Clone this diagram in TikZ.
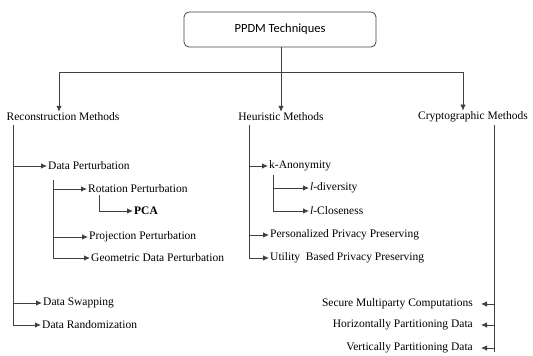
\documentclass[tikz,border=0pt]{standalone}
\usepackage{fontspec}
\setmainfont{Liberation Serif}
\newfontfamily\boxfont{Carlito}
\usetikzlibrary{arrows.meta}
\begin{document}
\begin{tikzpicture}[x=1pt,y=-1pt,
  line/.style={draw=black!75, line width=0.8pt},
  arr/.style={line, -{Latex[length=6pt,width=5.5pt]}},
  lbl/.style={font=\fontsize{11.5}{13}\selectfont, inner sep=1pt},
  lw/.style={lbl, anchor=west},
  le/.style={lbl, anchor=east},
  topbox/.style={draw=black!75, line width=0.8pt, rounded corners=5pt, minimum width=192pt, minimum height=35pt, font=\boxfont\fontsize{12.5}{14}\selectfont}]
\useasboundingbox (0,0) rectangle (533,356);
% top
\node[topbox] (top) at (280,29.5) {PPDM Techniques};
\node[lbl] (rm) at (63,117) {Reconstruction Methods};
\node[lbl] (hm) at (281,117) {Heuristic Methods};
\node[lbl] (cm) at (473,117) {Cryptographic Methods};
\coordinate (hj) at (281,72);
\coordinate (lj) at (59,72);
\coordinate (rj) at (463,72);
\draw[line] (top.south -| hj) -- (hj);
\draw[line] (lj) -- (rj);
\draw[arr] (lj) -- (lj |- rm.north);
\draw[arr] (hj) -- (hm.north);
\draw[arr] (rj) -- (rj |- cm.north);
% reconstruction
\node[lw] (dp) at (47,166) {Data Perturbation};
\node[lw] (rp) at (87,189) {Rotation Perturbation};
\node[lw] (pca) at (133,211) {\textbf{PCA}};
\node[lw] (pp) at (88,237) {Projection Perturbation};
\node[lw] (gp) at (90,258) {Geometric Data Perturbation};
\node[lw] (ds) at (42,303) {Data Swapping};
\node[lw] (dr) at (41,325) {Data Randomization};
\coordinate (r0) at (13,125);
\draw[arr] (r0) |- (dr.west);
\draw[arr] (r0 |- dp.west) -- (dp.west);
\draw[arr] (r0 |- ds.west) -- (ds.west);
\coordinate (d0) at (53,180);
\draw[arr] (d0) |- (gp.west);
\draw[arr] (d0 |- rp.west) -- (rp.west);
\draw[arr] (d0 |- pp.west) -- (pp.west);
\coordinate (p0) at (99,195);
\draw[arr] (p0) |- (pca.west);
% heuristic
\node[lw] (ka) at (268,166) {k-Anonymity};
\node[lw] (ld) at (309,188) {\textit{l}-diversity};
\node[lw] (lc) at (309,211) {\textit{l}-Closeness};
\node[lw] (ppp) at (269,235) {Personalized Privacy Preserving};
\node[lw] (ubp) at (269,258) {Utility\ \ Based Privacy Preserving};
\coordinate (h0) at (249,125);
\draw[arr] (h0) |- (ubp.west);
\draw[arr] (h0 |- ka.west) -- (ka.west);
\draw[arr] (h0 |- ppp.west) -- (ppp.west);
\coordinate (k0) at (273,175);
\draw[arr] (k0) |- (lc.west);
\draw[arr] (k0 |- ld.west) -- (ld.west);
% cryptographic
\node[le] (smc) at (474,304) {Secure Multiparty Computations};
\node[le] (hpd) at (474,325) {Horizontally Partitioning Data};
\node[le] (vpd) at (474,348) {Vertically Partitioning Data};
\coordinate (c0) at (494,125);
\coordinate (c1) at (494,352);
\draw[line] (c0) -- (c1);
\draw[arr] (c0 |- smc.east) -- ([xshift=-13pt]c0 |- smc.east);
\draw[arr] (c0 |- hpd.east) -- ([xshift=-13pt]c0 |- hpd.east);
\draw[arr] (c0 |- vpd.east) -- ([xshift=-13pt]c0 |- vpd.east);
\end{tikzpicture}
\end{document}
